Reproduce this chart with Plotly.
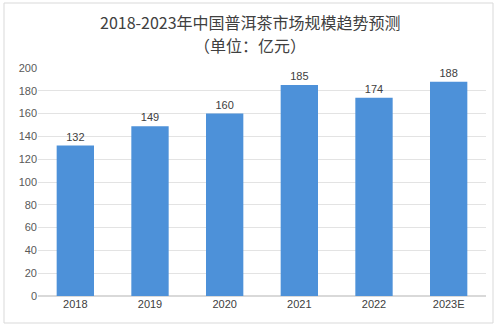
import plotly.graph_objects as go

years = ["2018", "2019", "2020", "2021", "2022", "2023E"]
values = [132, 149, 160, 185, 174, 188]
y_ticks = [0, 20, 40, 60, 80, 100, 120, 140, 160, 180, 200]
title_line1 = "2018-2023年中国普洱茶市场规模趋势预测"
title_line2 = "（单位：亿元）"

W, H = 499, 327
L, R, T, B = 38, 13, 68, 31

fig = go.Figure()
fig.add_trace(go.Bar(
    x=years, y=values, text=[str(v) for v in values], textposition="outside",
    textfont=dict(size=11, color="#404040", family="Liberation Sans, Arial"),
    marker=dict(color="#4d91d9", line=dict(width=0)), width=0.5, cliponaxis=False,
))

def px_to_paper_x(px):
    return (px - L) / (W - L - R)

def px_to_paper_y(py):
    return (H - B - py) / (H - T - B)

fig.add_shape(type="rect", xref="paper", yref="paper",
              x0=px_to_paper_x(4), x1=px_to_paper_x(493),
              y0=px_to_paper_y(323), y1=px_to_paper_y(3),
              line=dict(color="#d9d9d9", width=1), layer="below")

tfont = dict(size=16, color="#404040", family="Noto Sans CJK SC")
fig.add_annotation(text=title_line1, xref="paper", yref="paper",
                   x=px_to_paper_x(250), y=px_to_paper_y(22),
                   xanchor="center", yanchor="middle", showarrow=False, font=tfont)
fig.add_annotation(text=title_line2, xref="paper", yref="paper",
                   x=px_to_paper_x(250), y=px_to_paper_y(45),
                   xanchor="center", yanchor="middle", showarrow=False, font=tfont)

fig.update_layout(
    width=W, height=H, margin=dict(l=L, r=R, t=T, b=B),
    paper_bgcolor="white", plot_bgcolor="white",
    showlegend=False,
    xaxis=dict(showgrid=False, showline=False, ticks="",
               tickfont=dict(size=11, color="#404040", family="Liberation Sans, Arial")),
    yaxis=dict(range=[0, 200], tickvals=y_ticks, showgrid=True, gridcolor="#e3e3e3",
               zeroline=True, zerolinecolor="#d9d9d9", showline=False, ticks="",
               tickfont=dict(size=11, color="#595959", family="Liberation Sans, Arial")),
)

fig.write_html("out.html")
